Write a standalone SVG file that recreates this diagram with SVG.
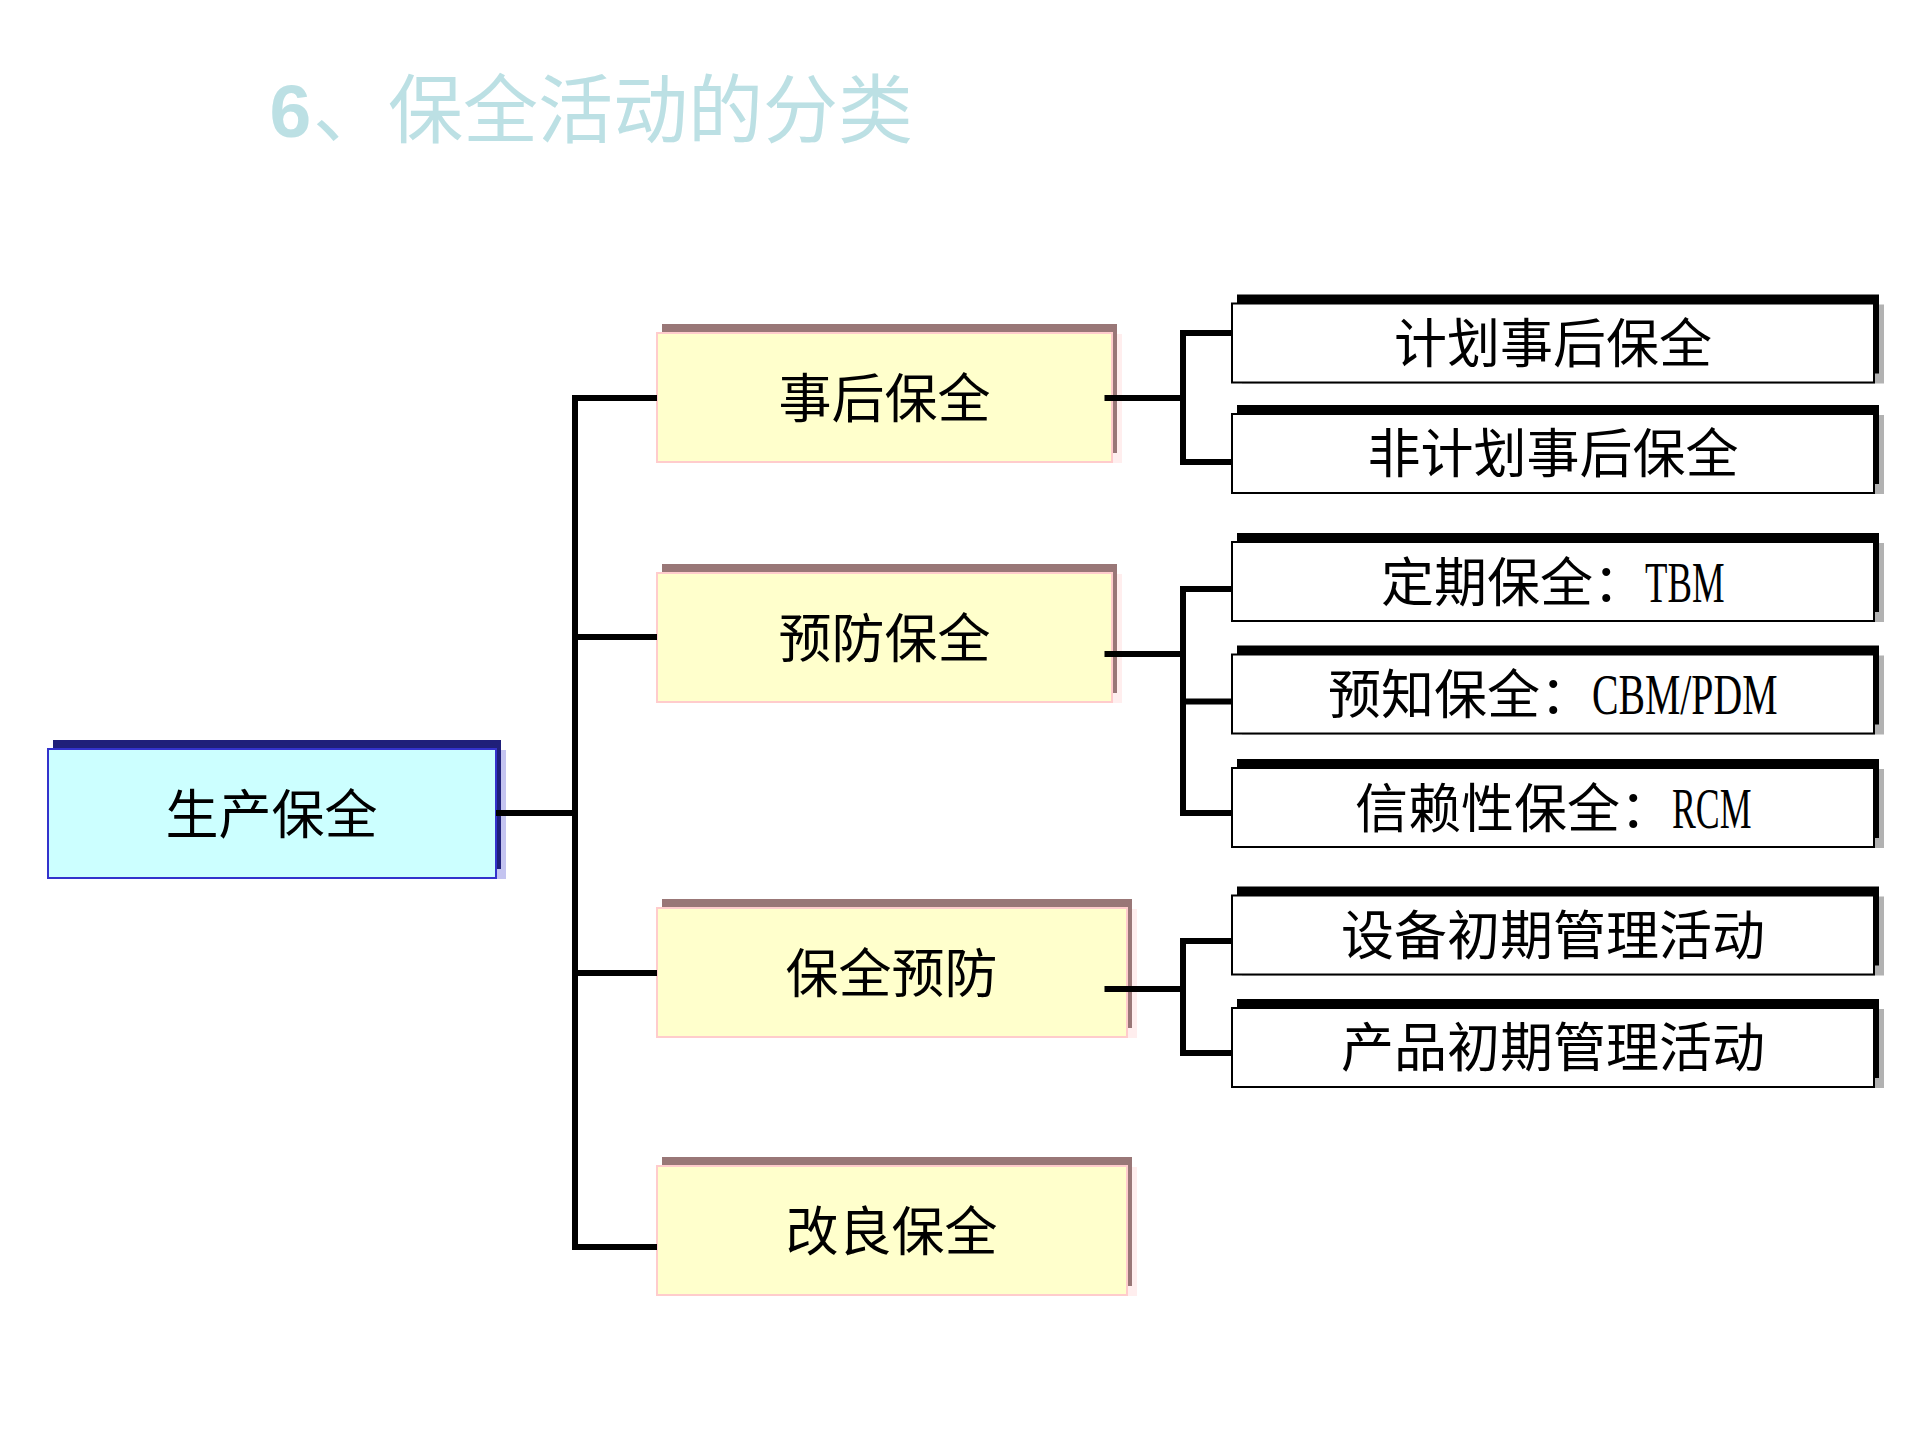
<svg xmlns="http://www.w3.org/2000/svg" width="1920" height="1440" viewBox="0 0 1920 1440">
<style>
.bg{fill:#FFFFFF}
.title{font-family:"Noto Sans CJK SC","Liberation Sans",sans-serif;font-size:75px;fill:#BCE0E4}
.title6{font-family:"Liberation Sans",sans-serif;font-weight:bold;font-size:75px;fill:#BCE0E4}
.mb{fill:#CCFFFF;stroke:#3333CC;stroke-width:2}
.db{fill:#1F1F7A}
.lb{fill:#C4C4F0}
.my{fill:#FFFFCC;stroke:#FFCCCC;stroke-width:2}
.dy{fill:#997777}
.ly{fill:#FFEEEE}
.mw{fill:#FFFFFF;stroke:#000000;stroke-width:2}
.dw{fill:#000000}
.lw{fill:#B2B2B2}
.lbl{font-family:"Noto Sans CJK SC",sans-serif;font-size:53px;fill:#000000;text-anchor:middle}
.lbs{font-family:"Noto Sans CJK SC",sans-serif;font-size:53px;fill:#000000}
.lat{font-family:"Liberation Serif",serif;font-size:56px;fill:#000000}
.conn{fill:none;stroke:#000000;stroke-width:6;stroke-linejoin:miter;stroke-linecap:butt}
</style>
<rect class="bg" x="0" y="0" width="1920" height="1440"/>
<g id="title">
<text class="title6" x="269.5" y="137">6</text>
<text class="title" x="313" y="137">、保全活动的分类</text>
</g>
<g id="node-shengchan">
<rect class="lb" x="58" y="750" width="448" height="129"/>
<rect class="db" x="53" y="740" width="448" height="129"/>
<rect class="mb" x="48" y="749" width="448" height="129"/>
<text class="lbl" x="271.5" y="834">生产保全</text>
</g>
<g id="node-shihou">
<rect class="ly" x="667" y="334" width="455" height="129"/>
<rect class="dy" x="662" y="324" width="455" height="129"/>
<rect class="my" x="657" y="333" width="455" height="129"/>
<text class="lbl" x="884.5" y="418">事后保全</text>
</g>
<g id="node-yufang">
<rect class="ly" x="667" y="574" width="455" height="129"/>
<rect class="dy" x="662" y="564" width="455" height="129"/>
<rect class="my" x="657" y="573" width="455" height="129"/>
<text class="lbl" x="884.5" y="658">预防保全</text>
</g>
<g id="node-baoquanyufang">
<rect class="ly" x="667" y="909" width="470" height="129"/>
<rect class="dy" x="662" y="899" width="470" height="129"/>
<rect class="my" x="657" y="908" width="470" height="129"/>
<text class="lbl" x="891.5" y="993">保全预防</text>
</g>
<g id="node-gailiang">
<rect class="ly" x="667" y="1167" width="470" height="129"/>
<rect class="dy" x="662" y="1157" width="470" height="129"/>
<rect class="my" x="657" y="1166" width="470" height="129"/>
<text class="lbl" x="891.5" y="1251">改良保全</text>
</g>
<g id="node-jihua">
<rect class="lw" x="1242" y="304.5" width="642" height="79"/>
<rect class="dw" x="1237" y="294.5" width="642" height="79"/>
<rect class="mw" x="1232" y="303.5" width="642" height="79"/>
<text class="lbl" x="1553" y="362.5">计划事后保全</text>
</g>
<g id="node-feijihua">
<rect class="lw" x="1242" y="415" width="642" height="79"/>
<rect class="dw" x="1237" y="405" width="642" height="79"/>
<rect class="mw" x="1232" y="414" width="642" height="79"/>
<text class="lbl" x="1553" y="473">非计划事后保全</text>
</g>
<g id="node-tbm">
<rect class="lw" x="1242" y="543" width="642" height="79"/>
<rect class="dw" x="1237" y="533" width="642" height="79"/>
<rect class="mw" x="1232" y="542" width="642" height="79"/>
<text class="lbs" x="1381" y="601.5">定期保全：</text>
<text class="lat" x="1645" y="601.5" textLength="79.5" lengthAdjust="spacingAndGlyphs">TBM</text>
</g>
<g id="node-cbm">
<rect class="lw" x="1242" y="655.5" width="642" height="79"/>
<rect class="dw" x="1237" y="645.5" width="642" height="79"/>
<rect class="mw" x="1232" y="654.5" width="642" height="79"/>
<text class="lbs" x="1328" y="714">预知保全：</text>
<text class="lat" x="1592" y="714" textLength="185.5" lengthAdjust="spacingAndGlyphs">CBM/PDM</text>
</g>
<g id="node-rcm">
<rect class="lw" x="1242" y="769" width="642" height="79"/>
<rect class="dw" x="1237" y="759" width="642" height="79"/>
<rect class="mw" x="1232" y="768" width="642" height="79"/>
<text class="lbs" x="1355" y="827.5">信赖性保全：</text>
<text class="lat" x="1672" y="827.5" textLength="79.5" lengthAdjust="spacingAndGlyphs">RCM</text>
</g>
<g id="node-shebei">
<rect class="lw" x="1242" y="896.5" width="642" height="79"/>
<rect class="dw" x="1237" y="886.5" width="642" height="79"/>
<rect class="mw" x="1232" y="895.5" width="642" height="79"/>
<text class="lbl" x="1553" y="954.5">设备初期管理活动</text>
</g>
<g id="node-chanpin">
<rect class="lw" x="1242" y="1009" width="642" height="79"/>
<rect class="dw" x="1237" y="999" width="642" height="79"/>
<rect class="mw" x="1232" y="1008" width="642" height="79"/>
<text class="lbl" x="1553" y="1067">产品初期管理活动</text>
</g>
<g id="connectors">
<path class="conn" d="M496,813 H575"/>
<path class="conn" d="M657,398 H575 V1247 H657"/>
<path class="conn" d="M575,637 H657"/>
<path class="conn" d="M575,973 H657"/>
<path class="conn" d="M1104.5,398 H1183"/>
<path class="conn" d="M1232,333 H1183 V462 H1232"/>
<path class="conn" d="M1104.5,654 H1183"/>
<path class="conn" d="M1232,589 H1183 V813 H1232"/>
<path class="conn" d="M1183,701.5 H1232"/>
<path class="conn" d="M1104.5,989 H1183"/>
<path class="conn" d="M1232,941 H1183 V1053 H1232"/>
</g>
</svg>
